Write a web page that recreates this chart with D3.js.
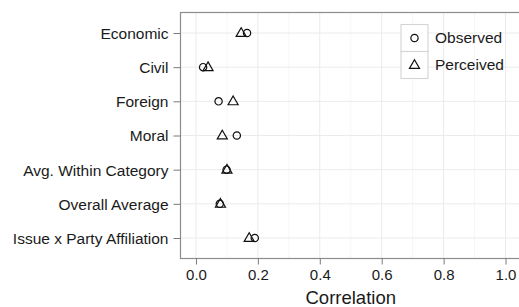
<!DOCTYPE html>
<html>
<head>
<meta charset="utf-8">
<script src="https://cdn.jsdelivr.net/npm/d3@7.9.0/dist/d3.min.js"></script>
<style>
  body { margin: 0; background: #fff; }
  svg { display: block; font-family: "Liberation Sans", Arial, Helvetica, sans-serif; }
</style>
</head>
<body>
<svg width="519" height="307"></svg>
<script>
const categories = ['Economic', 'Civil', 'Foreign', 'Moral', 'Avg. Within Category', 'Overall Average', 'Issue x Party Affiliation'];
const observed = [0.165, 0.023, 0.073, 0.132, 0.099, 0.077, 0.19];
const perceived = [0.146, 0.039, 0.12, 0.085, 0.1, 0.079, 0.172];
const xTicks = [0, 0.2, 0.4, 0.6, 0.8, 1.0];
const xMinor = [0.1, 0.3, 0.5, 0.7, 0.9];
const seriesNames = ['Observed', 'Perceived'];

const svg = d3.select('svg');
const panel = { left: 180.5, top: 12.5, right: 521, bottom: 258.5 };

let x = d3.scaleLinear().domain([-0.05, 1.05]).range([panel.left, panel.right]);
let y = d3.scalePoint().domain(categories).range([panel.top, panel.bottom]).padding(0.6);

// grid
let grid = svg.append('g');
xMinor.forEach((v) => {
  grid.append('line')
    .attr('x1', x(v)).attr('x2', x(v))
    .attr('y1', panel.top).attr('y2', panel.bottom)
    .attr('stroke', '#f4f4f4').attr('stroke-width', 0.8);
});
xTicks.forEach((v) => {
  grid.append('line')
    .attr('x1', x(v)).attr('x2', x(v))
    .attr('y1', panel.top).attr('y2', panel.bottom)
    .attr('stroke', '#ebebeb').attr('stroke-width', 1);
});
categories.forEach((c) => {
  grid.append('line')
    .attr('x1', panel.left).attr('x2', panel.right)
    .attr('y1', y(c)).attr('y2', y(c))
    .attr('stroke', '#ebebeb').attr('stroke-width', 1);
});

// panel border
svg.append('rect')
  .attr('x', panel.left).attr('y', panel.top)
  .attr('width', panel.right - panel.left).attr('height', panel.bottom - panel.top)
  .attr('fill', 'none').attr('stroke', '#8c8c8c').attr('stroke-width', 1.2);

// axes
let xAxis = svg.append('g')
  .attr('transform', `translate(0,${panel.bottom})`)
  .call(d3.axisBottom(x).tickValues(xTicks).tickFormat(d3.format('.1f')).tickSize(6).tickPadding(5));
let yAxis = svg.append('g')
  .attr('transform', `translate(${panel.left},0)`)
  .call(d3.axisLeft(y).tickSize(7).tickPadding(5));
[xAxis, yAxis].forEach((a) => {
  a.select('.domain').remove();
  a.selectAll('.tick line').attr('stroke', '#7a7a7a');
  a.selectAll('.tick text').attr('fill', '#1a1a1a').style('font-size', '15px');
});
yAxis.selectAll('.tick text').attr('dy', '0.35em').style('font-size', '15.5px');

svg.append('text')
  .attr('x', x(0.5)).attr('y', 303.5)
  .attr('text-anchor', 'middle')
  .attr('fill', '#1a1a1a')
  .style('font-size', '18.5px')
  .text('Correlation');

// points
const circleSym = d3.symbol().type(d3.symbolCircle).size(42);
const triSym = d3.symbol().type(d3.symbolTriangle).size(44);
let pts = svg.append('g').attr('fill', 'none').attr('stroke', '#111').attr('stroke-width', 1.2);
categories.forEach((c, i) => {
  pts.append('path').attr('d', circleSym())
    .attr('transform', `translate(${x(observed[i])},${y(c)})`);
  pts.append('path').attr('d', triSym())
    .attr('transform', `translate(${x(perceived[i])},${y(c) + 0.5})`);
});

// legend
let legend = svg.append('g').attr('transform', 'translate(401,24.5)');
seriesNames.forEach((name, i) => {
  let g = legend.append('g').attr('transform', `translate(0,${i * 27})`);
  g.append('rect').attr('width', 27).attr('height', 27)
    .attr('fill', '#fff').attr('stroke', '#d4d4d4').attr('stroke-width', 1.1);
  g.append('path')
    .attr('d', i === 0 ? circleSym() : triSym())
    .attr('transform', `translate(13.5,${i === 0 ? 13.5 : 14})`)
    .attr('fill', 'none').attr('stroke', '#111').attr('stroke-width', 1.2);
  g.append('text')
    .attr('x', 34).attr('y', 13.5).attr('dy', '0.35em')
    .attr('fill', '#1a1a1a')
    .style('font-size', '15.5px')
    .text(name);
});
</script>
</body>
</html>
